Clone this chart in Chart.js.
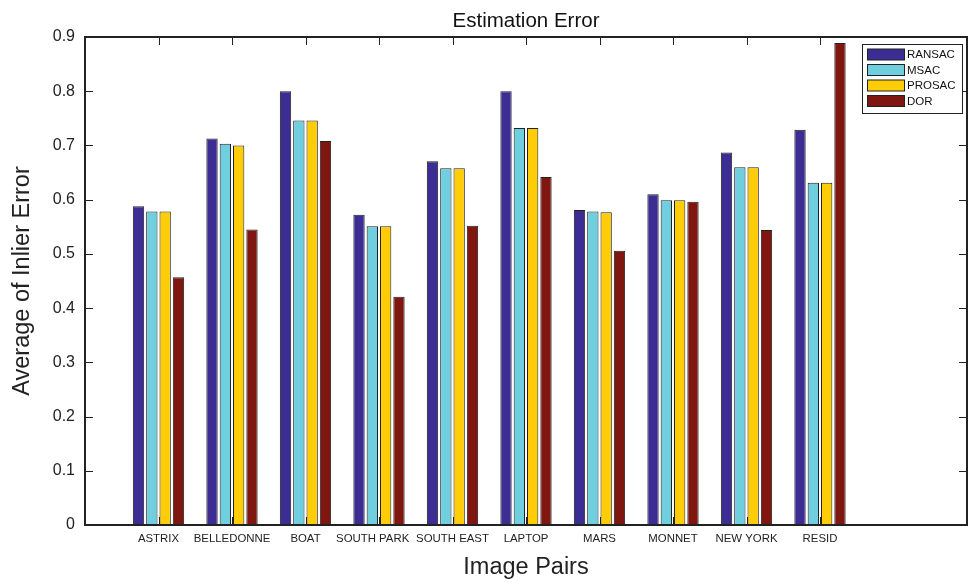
<!DOCTYPE html>
<html>
<head>
<meta charset="utf-8">
<script src="https://cdn.jsdelivr.net/npm/chart.js@4.4.0/dist/chart.umd.min.js"></script>
<style>
  body { margin: 0; background: #fff; }
  #wrap { width: 969px; height: 584px; }
</style>
</head>
<body>
<div id="wrap"><canvas id="barChart"></canvas></div>
<script>
// blank slot at the start and two at the end, like the original axis range 0..12
const categories = ['', 'ASTRIX', 'BELLEDONNE', 'BOAT', 'SOUTH PARK    ', 'SOUTH EAST', 'LAPTOP', 'MARS', 'MONNET', 'NEW YORK', 'RESID', '', ''];
const ransac = [null, 0.588, 0.713, 0.800, 0.572, 0.671, 0.800, 0.581, 0.610, 0.687, 0.729, null, null];
const msac   = [null, 0.578, 0.703, 0.746, 0.551, 0.658, 0.732, 0.578, 0.599, 0.660, 0.631, null, null];
const prosac = [null, 0.578, 0.700, 0.746, 0.551, 0.658, 0.732, 0.577, 0.599, 0.660, 0.631, null, null];
const dor    = [null, 0.457, 0.545, 0.708, 0.421, 0.552, 0.642, 0.506, 0.596, 0.544, 0.889, null, null];
const yTicks = [0, 0.1, 0.2, 0.3, 0.4, 0.5, 0.6, 0.7, 0.8, 0.9];
const chartTitle = 'Estimation Error';

const FONT = 'Liberation Sans, Arial, Helvetica, sans-serif';

// frame with inward ticks on all four sides (matlab look) + title centred on the plot
const frame = {
    id: 'frame',
    afterDraw(chart) {
        const ctx = chart.ctx;
        const a = chart.chartArea;
        const x = chart.scales.x, y = chart.scales.y;
        ctx.save();
        ctx.strokeStyle = '#222';
        ctx.lineWidth = 1;
        ctx.beginPath();
        yTicks.forEach(v => {
            const py = Math.round(y.getPixelForValue(v)) + 0.5;
            ctx.moveTo(a.left, py); ctx.lineTo(a.left + 8, py);
            ctx.moveTo(a.right, py); ctx.lineTo(a.right - 8, py);
        });
        categories.forEach((c, i) => {
            if (!c) return;
            const px = Math.round(x.getPixelForValue(i)) + 0.5;
            ctx.moveTo(px, a.bottom); ctx.lineTo(px, a.bottom - 8);
            ctx.moveTo(px, a.top); ctx.lineTo(px, a.top + 8);
        });
        ctx.stroke();
        ctx.lineWidth = 2;
        ctx.strokeRect(a.left, a.top, a.right - a.left, a.bottom - a.top);

        ctx.fillStyle = '#111';
        ctx.font = '20.5px ' + FONT;
        ctx.textAlign = 'center';
        ctx.textBaseline = 'middle';
        ctx.fillText(chartTitle, (a.left + a.right) / 2, 21);
        ctx.restore();
    }
};

// legend box inside the top right corner
const boxLegend = {
    id: 'boxLegend',
    afterDraw(chart) {
        const ctx = chart.ctx;
        const a = chart.chartArea;
        const left = a.right - 105, top = a.top + 7;
        ctx.save();
        ctx.fillStyle = '#fff';
        ctx.fillRect(left, top, 100, 69);
        ctx.strokeStyle = '#222';
        ctx.lineWidth = 1;
        ctx.strokeRect(left + 0.5, top + 0.5, 100, 69);
        ctx.font = '11.5px ' + FONT;
        ctx.textBaseline = 'middle';
        chart.data.datasets.forEach((ds, i) => {
            const cy = top + 10 + i * 15.5;
            ctx.fillStyle = ds.backgroundColor;
            ctx.fillRect(left + 5.5, cy - 5, 37, 11);
            ctx.strokeRect(left + 5.5, cy - 5, 37, 11);
            ctx.fillStyle = '#111';
            ctx.fillText(ds.label, left + 45, cy + 1);
        });
        ctx.restore();
    }
};

function makeSet(label, data, color) {
    return {
        label: label,
        data: data,
        backgroundColor: color,
        borderColor: '#222',
        borderWidth: 1,
        categoryPercentage: 0.725,
        barPercentage: 0.85
    };
}

const ctx = document.getElementById('barChart').getContext('2d');
const chart = new Chart(ctx, {
    type: 'bar',
    data: {
        labels: categories,
        datasets: [
            makeSet('RANSAC', ransac, '#3c2d94'),
            makeSet('MSAC', msac, '#70cfdf'),
            makeSet('PROSAC', prosac, '#ffcc08'),
            makeSet('DOR', dor, '#7f1610')
        ]
    },
    options: {
        responsive: true,
        maintainAspectRatio: false,
        animation: false,
        layout: { padding: { left: 0, right: 2, top: 37, bottom: 0 } },
        plugins: {
            legend: { display: false },
            tooltip: { enabled: false },
            title: { display: false }
        },
        scales: {
            x: {
                offset: false,
                grid: { display: false, drawTicks: false },
                border: { display: false },
                ticks: {
                    autoSkip: false,
                    maxRotation: 0,
                    padding: 7,
                    color: '#222',
                    font: { family: FONT, size: 11.4 }
                },
                title: {
                    display: true,
                    text: 'Image Pairs',
                    color: '#222',
                    font: { family: FONT, size: 23.5 },
                    padding: { top: 0, bottom: 2 }
                },
                afterFit(scale) {
                    scale.height = 59;
                    scale.paddingLeft = 0;
                    scale.paddingRight = 0;
                }
            },
            y: {
                min: 0,
                max: 0.9,
                grid: { display: false, drawTicks: false },
                border: { display: false },
                afterBuildTicks(scale) { scale.ticks = yTicks.map(v => ({ value: v })); },
                ticks: {
                    padding: 10,
                    color: '#222',
                    font: { family: FONT, size: 16 },
                    callback: v => v === 0 ? '0' : v.toFixed(1)
                },
                title: {
                    display: true,
                    text: 'Average of Inlier Error',
                    color: '#222',
                    font: { family: FONT, size: 23.5 },
                    padding: { top: 8, bottom: 0 }
                },
                afterFit(scale) {
                    scale.width = 85;
                    scale.paddingTop = 0;
                    scale.paddingBottom = 0;
                }
            }
        }
    },
    plugins: [frame, boxLegend]
});
</script>
</body>
</html>
